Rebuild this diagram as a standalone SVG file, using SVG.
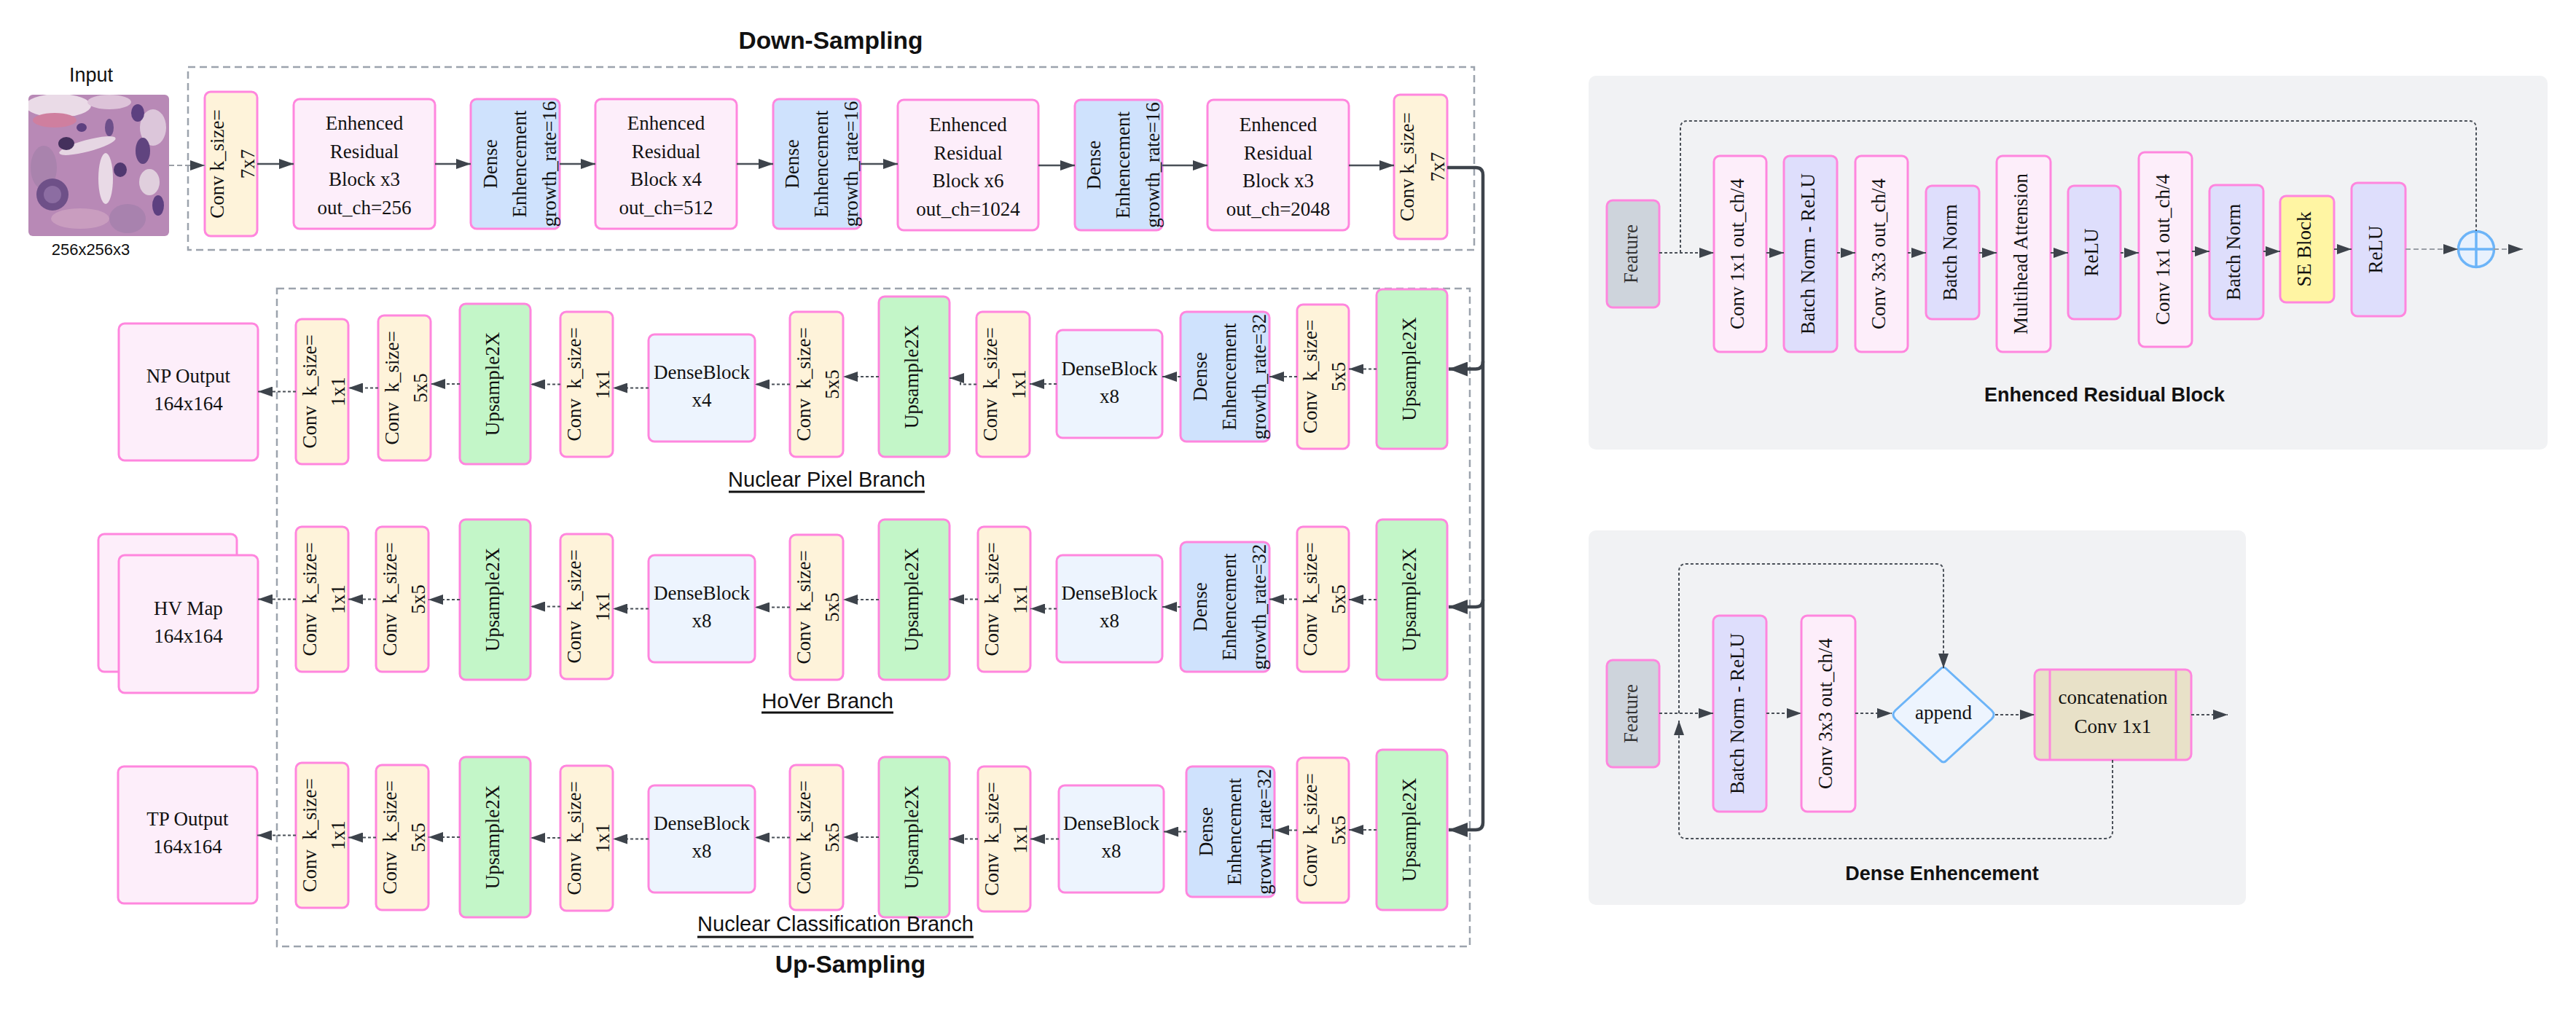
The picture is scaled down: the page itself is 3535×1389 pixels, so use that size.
<svg xmlns="http://www.w3.org/2000/svg" width="3535" height="1389" viewBox="0 0 3535 1389">
<style>
.box{stroke:#ff86de;stroke-width:3}
.conv{fill:#fef3da}.pk{fill:#fdeefa}.de{fill:#cfe2fd}.up{fill:#c3f6c8}.db{fill:#edf4fe}.lav{fill:#dedefc}.se{fill:#fff5a3}.ft{fill:#ced4dc}.cc{fill:#e8e1c8}
.t{font-family:"Liberation Serif","Times New Roman",serif;font-size:27px;fill:#111;text-anchor:middle}
.s{font-family:"Liberation Sans",Arial,sans-serif;fill:#111;text-anchor:middle}
.title{font-weight:bold;font-size:33.5px}
.branch{font-size:29px}
.ptitle{font-weight:bold;font-size:27px}
.dot{fill:none;stroke:#4a5058;stroke-width:2;stroke-dasharray:4 3}
.lt{fill:none;stroke:#9a9fa6;stroke-width:2;stroke-dasharray:7 4}
.solid{fill:none;stroke:#4a5058;stroke-width:2.5}
.main{fill:none;stroke:#3d434b;stroke-width:4.5}
.grp{fill:none;stroke:#9ca3ad;stroke-width:2.5;stroke-dasharray:10 6}
.panel{fill:#f1f2f4}
.ul{stroke:#111;stroke-width:3}
</style>
<defs>
<marker id="ah" viewBox="0 0 20 14" refX="20" refY="7" markerWidth="20" markerHeight="14" markerUnits="userSpaceOnUse" orient="auto"><path d="M0,0 L20,7 L0,14 z" fill="#3d434b"/></marker>
<marker id="ahb" viewBox="0 0 26 20" refX="26" refY="10" markerWidth="26" markerHeight="20" markerUnits="userSpaceOnUse" orient="auto"><path d="M0,0 L26,10 L0,20 z" fill="#3d434b"/></marker>
<clipPath id="imgclip"><rect x="39" y="130" width="193" height="194" rx="6"/></clipPath>
</defs>
<rect width="3535" height="1389" fill="#ffffff"/>

<!-- titles -->
<text class="s title" x="1140" y="67">Down-Sampling</text>
<text class="s title" x="1167" y="1335">Up-Sampling</text>
<rect class="grp" x="258" y="92" width="1765" height="251"/>
<rect class="grp" x="380" y="396" width="1637" height="903"/>

<!-- input -->
<g id="input">
<text class="s" x="125" y="112" style="font-size:27px">Input</text>
<g clip-path="url(#imgclip)">
<rect x="39" y="130" width="193" height="194" fill="#b889b6"/>
<ellipse cx="80" cy="145" rx="45" ry="16" fill="#eadbe7"/>
<ellipse cx="150" cy="140" rx="30" ry="10" fill="#ddc3d9"/>
<ellipse cx="75" cy="165" rx="30" ry="10" fill="#cf7f9f"/>
<ellipse cx="120" cy="200" rx="40" ry="8" fill="#e6d6e3" transform="rotate(-15 120 200)"/>
<ellipse cx="145" cy="245" rx="10" ry="35" fill="#e9dae6"/>
<ellipse cx="210" cy="175" rx="18" ry="25" fill="#dcc6da"/>
<ellipse cx="205" cy="250" rx="14" ry="18" fill="#e0cfdd"/>
<ellipse cx="60" cy="230" rx="18" ry="30" fill="#a983ad"/>
<ellipse cx="110" cy="300" rx="40" ry="14" fill="#c99dbf"/>
<ellipse cx="175" cy="300" rx="25" ry="20" fill="#a882ae"/>
<ellipse cx="189" cy="155" rx="9" ry="12" fill="#5d4080"/>
<ellipse cx="91" cy="197" rx="11" ry="9" fill="#44305c"/>
<ellipse cx="196" cy="207" rx="10" ry="18" fill="#60447f"/>
<ellipse cx="165" cy="233" rx="9" ry="10" fill="#503870"/>
<ellipse cx="72" cy="267" rx="22" ry="22" fill="#6e5088"/>
<ellipse cx="72" cy="267" rx="12" ry="12" fill="#8c6da2"/>
<ellipse cx="217" cy="282" rx="8" ry="14" fill="#5d4080"/>
<ellipse cx="112" cy="175" rx="7" ry="6" fill="#5d4080"/>
<ellipse cx="150" cy="175" rx="6" ry="12" fill="#6d4f8a"/>
</g>
<text class="s" x="124.5" y="350" style="font-size:22px">256x256x3</text>
</g>

<!-- down-sampling nodes -->
<g id="ds-conv1"><rect class="box conv" x="281" y="126" width="72" height="198" rx="8"/><text class="t" transform="translate(317 225) rotate(-90)"><tspan x="0" y="-10">Conv k_size=</tspan><tspan x="0" y="32">7x7</tspan></text></g>
<g id="ds-erb1"><rect class="box pk" x="403" y="136" width="194" height="178" rx="8"/><text class="t"><tspan x="500" y="178">Enhenced</tspan><tspan x="500" y="216.5">Residual</tspan><tspan x="500" y="255">Block x3</tspan><tspan x="500" y="293.5">out_ch=256</tspan></text></g>
<g id="ds-de1"><rect class="box de" x="646" y="136" width="122" height="178" rx="8"/><text class="t" transform="translate(707 225) rotate(-90)"><tspan x="0" y="-25">Dense</tspan><tspan x="0" y="14.5">Enhencement</tspan><tspan x="0" y="55.5">growth_rate=16</tspan></text></g>
<g id="ds-erb2"><rect class="box pk" x="817" y="136" width="194" height="178" rx="8"/><text class="t"><tspan x="914" y="178">Enhenced</tspan><tspan x="914" y="216.5">Residual</tspan><tspan x="914" y="255">Block x4</tspan><tspan x="914" y="293.5">out_ch=512</tspan></text></g>
<g id="ds-de2"><rect class="box de" x="1061" y="136" width="120" height="178" rx="8"/><text class="t" transform="translate(1121 225) rotate(-90)"><tspan x="0" y="-25">Dense</tspan><tspan x="0" y="14.5">Enhencement</tspan><tspan x="0" y="55.5">growth_rate=16</tspan></text></g>
<g id="ds-erb3"><rect class="box pk" x="1232" y="137" width="193" height="179" rx="8"/><text class="t"><tspan x="1328.5" y="180">Enhenced</tspan><tspan x="1328.5" y="218.5">Residual</tspan><tspan x="1328.5" y="257">Block x6</tspan><tspan x="1328.5" y="295.5">out_ch=1024</tspan></text></g>
<g id="ds-de3"><rect class="box de" x="1475" y="137" width="120" height="179" rx="8"/><text class="t" transform="translate(1535 226.5) rotate(-90)"><tspan x="0" y="-25">Dense</tspan><tspan x="0" y="14.5">Enhencement</tspan><tspan x="0" y="55.5">growth_rate=16</tspan></text></g>
<g id="ds-erb4"><rect class="box pk" x="1657" y="137" width="194" height="179" rx="8"/><text class="t"><tspan x="1754" y="180">Enhenced</tspan><tspan x="1754" y="218.5">Residual</tspan><tspan x="1754" y="257">Block x3</tspan><tspan x="1754" y="295.5">out_ch=2048</tspan></text></g>
<g id="ds-conv2"><rect class="box conv" x="1913" y="130" width="73" height="198" rx="8"/><text class="t" transform="translate(1949.5 229) rotate(-90)"><tspan x="0" y="-10">Conv k_size=</tspan><tspan x="0" y="32">7x7</tspan></text></g>

<!-- NP row -->
<g id="np-out"><rect class="box pk" x="163" y="444" width="191" height="188" rx="8"/><text class="t"><tspan x="258.5" y="525">NP Output</tspan><tspan x="258.5" y="563">164x164</tspan></text></g>
<g id="np-c1"><rect class="box conv" x="406" y="438" width="72" height="199" rx="8"/><text class="t" xml:space="preserve" transform="translate(442 537.5) rotate(-90)"><tspan x="0" y="-8.5">Conv  k_size=</tspan><tspan x="0" y="30.5">1x1</tspan></text></g>
<g id="np-c2"><rect class="box conv" x="519" y="433" width="72" height="199" rx="8"/><text class="t" xml:space="preserve" transform="translate(555 532.5) rotate(-90)"><tspan x="0" y="-8.5">Conv  k_size=</tspan><tspan x="0" y="30.5">5x5</tspan></text></g>
<g id="np-u1"><rect class="box up" x="631" y="417" width="97" height="220" rx="8"/><text class="t" transform="translate(679.5 527) rotate(-90)" x="0" y="5">Upsample2X</text></g>
<g id="np-c3"><rect class="box conv" x="769" y="428" width="72" height="199" rx="8"/><text class="t" xml:space="preserve" transform="translate(805 527.5) rotate(-90)"><tspan x="0" y="-8.5">Conv  k_size=</tspan><tspan x="0" y="30.5">1x1</tspan></text></g>
<g id="np-d1"><rect class="box db" x="890" y="459" width="146" height="147" rx="8"/><text class="t"><tspan x="963" y="520">DenseBlock</tspan><tspan x="963" y="558">x4</tspan></text></g>
<g id="np-c4"><rect class="box conv" x="1084" y="428" width="73" height="199" rx="8"/><text class="t" xml:space="preserve" transform="translate(1120.5 527.5) rotate(-90)"><tspan x="0" y="-8.5">Conv  k_size=</tspan><tspan x="0" y="30.5">5x5</tspan></text></g>
<g id="np-u2"><rect class="box up" x="1206" y="407" width="97" height="220" rx="8"/><text class="t" transform="translate(1254.5 517) rotate(-90)" x="0" y="5">Upsample2X</text></g>
<g id="np-c5"><rect class="box conv" x="1340" y="428" width="73" height="199" rx="8"/><text class="t" xml:space="preserve" transform="translate(1376.5 527.5) rotate(-90)"><tspan x="0" y="-8.5">Conv  k_size=</tspan><tspan x="0" y="30.5">1x1</tspan></text></g>
<g id="np-d2"><rect class="box db" x="1450" y="453" width="145" height="148" rx="8"/><text class="t"><tspan x="1522.5" y="514.5">DenseBlock</tspan><tspan x="1522.5" y="552.5">x8</tspan></text></g>
<g id="np-de"><rect class="box de" x="1620" y="428" width="122" height="178" rx="8"/><text class="t" transform="translate(1681 517) rotate(-90)"><tspan x="0" y="-25">Dense</tspan><tspan x="0" y="14.5">Enhencement</tspan><tspan x="0" y="55.5">growth_rate=32</tspan></text></g>
<g id="np-c6"><rect class="box conv" x="1780" y="418" width="71" height="198" rx="8"/><text class="t" xml:space="preserve" transform="translate(1815.5 517) rotate(-90)"><tspan x="0" y="-8.5">Conv  k_size=</tspan><tspan x="0" y="30.5">5x5</tspan></text></g>
<g id="np-u3"><rect class="box up" x="1889" y="397" width="97" height="219" rx="8"/><text class="t" transform="translate(1937.5 506.5) rotate(-90)" x="0" y="5">Upsample2X</text></g>

<!-- HV row -->
<g id="hv-out"><rect class="box pk" x="135" y="733" width="190" height="189" rx="8"/><rect class="box pk" x="163" y="762" width="191" height="189" rx="8"/><text class="t"><tspan x="258.5" y="843.5">HV Map</tspan><tspan x="258.5" y="881.5">164x164</tspan></text></g>
<g id="hv-c1"><rect class="box conv" x="406" y="723" width="72" height="199" rx="8"/><text class="t" xml:space="preserve" transform="translate(442 822.5) rotate(-90)"><tspan x="0" y="-8.5">Conv  k_size=</tspan><tspan x="0" y="30.5">1x1</tspan></text></g>
<g id="hv-c2"><rect class="box conv" x="516" y="723" width="72" height="199" rx="8"/><text class="t" xml:space="preserve" transform="translate(552 822.5) rotate(-90)"><tspan x="0" y="-8.5">Conv  k_size=</tspan><tspan x="0" y="30.5">5x5</tspan></text></g>
<g id="hv-u1"><rect class="box up" x="631" y="713" width="97" height="220" rx="8"/><text class="t" transform="translate(679.5 823) rotate(-90)" x="0" y="5">Upsample2X</text></g>
<g id="hv-c3"><rect class="box conv" x="769" y="733" width="72" height="199" rx="8"/><text class="t" xml:space="preserve" transform="translate(805 832.5) rotate(-90)"><tspan x="0" y="-8.5">Conv  k_size=</tspan><tspan x="0" y="30.5">1x1</tspan></text></g>
<g id="hv-d1"><rect class="box db" x="890" y="762" width="146" height="147" rx="8"/><text class="t"><tspan x="963" y="823">DenseBlock</tspan><tspan x="963" y="861">x8</tspan></text></g>
<g id="hv-c4"><rect class="box conv" x="1084" y="734" width="73" height="199" rx="8"/><text class="t" xml:space="preserve" transform="translate(1120.5 833.5) rotate(-90)"><tspan x="0" y="-8.5">Conv  k_size=</tspan><tspan x="0" y="30.5">5x5</tspan></text></g>
<g id="hv-u2"><rect class="box up" x="1206" y="713" width="97" height="220" rx="8"/><text class="t" transform="translate(1254.5 823) rotate(-90)" x="0" y="5">Upsample2X</text></g>
<g id="hv-c5"><rect class="box conv" x="1342" y="723" width="72" height="199" rx="8"/><text class="t" xml:space="preserve" transform="translate(1378 822.5) rotate(-90)"><tspan x="0" y="-8.5">Conv  k_size=</tspan><tspan x="0" y="30.5">1x1</tspan></text></g>
<g id="hv-d2"><rect class="box db" x="1450" y="762" width="145" height="147" rx="8"/><text class="t"><tspan x="1522.5" y="823">DenseBlock</tspan><tspan x="1522.5" y="861">x8</tspan></text></g>
<g id="hv-de"><rect class="box de" x="1620" y="744" width="122" height="178" rx="8"/><text class="t" transform="translate(1681 833) rotate(-90)"><tspan x="0" y="-25">Dense</tspan><tspan x="0" y="14.5">Enhencement</tspan><tspan x="0" y="55.5">growth_rate=32</tspan></text></g>
<g id="hv-c6"><rect class="box conv" x="1780" y="723" width="71" height="199" rx="8"/><text class="t" xml:space="preserve" transform="translate(1815.5 822.5) rotate(-90)"><tspan x="0" y="-8.5">Conv  k_size=</tspan><tspan x="0" y="30.5">5x5</tspan></text></g>
<g id="hv-u3"><rect class="box up" x="1889" y="713" width="97" height="220" rx="8"/><text class="t" transform="translate(1937.5 823) rotate(-90)" x="0" y="5">Upsample2X</text></g>

<!-- TP row -->
<g id="tp-out"><rect class="box pk" x="162" y="1052" width="191" height="188" rx="8"/><text class="t"><tspan x="257.5" y="1133">TP Output</tspan><tspan x="257.5" y="1171">164x164</tspan></text></g>
<g id="tp-c1"><rect class="box conv" x="406" y="1047" width="72" height="199" rx="8"/><text class="t" xml:space="preserve" transform="translate(442 1146.5) rotate(-90)"><tspan x="0" y="-8.5">Conv  k_size=</tspan><tspan x="0" y="30.5">1x1</tspan></text></g>
<g id="tp-c2"><rect class="box conv" x="516" y="1050" width="72" height="199" rx="8"/><text class="t" xml:space="preserve" transform="translate(552 1149.5) rotate(-90)"><tspan x="0" y="-8.5">Conv  k_size=</tspan><tspan x="0" y="30.5">5x5</tspan></text></g>
<g id="tp-u1"><rect class="box up" x="631" y="1039" width="97" height="220" rx="8"/><text class="t" transform="translate(679.5 1149) rotate(-90)" x="0" y="5">Upsample2X</text></g>
<g id="tp-c3"><rect class="box conv" x="769" y="1051" width="72" height="199" rx="8"/><text class="t" xml:space="preserve" transform="translate(805 1150.5) rotate(-90)"><tspan x="0" y="-8.5">Conv  k_size=</tspan><tspan x="0" y="30.5">1x1</tspan></text></g>
<g id="tp-d1"><rect class="box db" x="890" y="1078" width="146" height="147" rx="8"/><text class="t"><tspan x="963" y="1139">DenseBlock</tspan><tspan x="963" y="1177">x8</tspan></text></g>
<g id="tp-c4"><rect class="box conv" x="1084" y="1050" width="73" height="199" rx="8"/><text class="t" xml:space="preserve" transform="translate(1120.5 1149.5) rotate(-90)"><tspan x="0" y="-8.5">Conv  k_size=</tspan><tspan x="0" y="30.5">5x5</tspan></text></g>
<g id="tp-u2"><rect class="box up" x="1206" y="1039" width="97" height="220" rx="8"/><text class="t" transform="translate(1254.5 1149) rotate(-90)" x="0" y="5">Upsample2X</text></g>
<g id="tp-c5"><rect class="box conv" x="1342" y="1052" width="72" height="199" rx="8"/><text class="t" xml:space="preserve" transform="translate(1378 1151.5) rotate(-90)"><tspan x="0" y="-8.5">Conv  k_size=</tspan><tspan x="0" y="30.5">1x1</tspan></text></g>
<g id="tp-d2"><rect class="box db" x="1453" y="1078" width="144" height="147" rx="8"/><text class="t"><tspan x="1525" y="1139">DenseBlock</tspan><tspan x="1525" y="1177">x8</tspan></text></g>
<g id="tp-de"><rect class="box de" x="1628" y="1052" width="121" height="179" rx="8"/><text class="t" transform="translate(1688.5 1141.5) rotate(-90)"><tspan x="0" y="-25">Dense</tspan><tspan x="0" y="14.5">Enhencement</tspan><tspan x="0" y="55.5">growth_rate=32</tspan></text></g>
<g id="tp-c6"><rect class="box conv" x="1780" y="1040" width="71" height="199" rx="8"/><text class="t" xml:space="preserve" transform="translate(1815.5 1139.5) rotate(-90)"><tspan x="0" y="-8.5">Conv  k_size=</tspan><tspan x="0" y="30.5">5x5</tspan></text></g>
<g id="tp-u3"><rect class="box up" x="1889" y="1029" width="97" height="220" rx="8"/><text class="t" transform="translate(1937.5 1139) rotate(-90)" x="0" y="5">Upsample2X</text></g>

<!-- branch labels -->
<g id="labels">
<text class="s branch" x="1134.5" y="668">Nuclear Pixel Branch</text><line class="ul" x1="1000" y1="675" x2="1269" y2="675"/>
<text class="s branch" x="1135.5" y="972">HoVer Branch</text><line class="ul" x1="1045" y1="978" x2="1226" y2="978"/>
<text class="s branch" x="1146.5" y="1278">Nuclear Classification Branch</text><line class="ul" x1="957" y1="1286" x2="1336" y2="1286"/>
</g>

<!-- ERB panel -->
<g id="erb-panel">
<rect class="panel" x="2180" y="104" width="1316" height="513" rx="10"/>
<text class="s ptitle" x="2888" y="551">Enhenced Residual Block</text>
</g>
<g id="erb-feature"><rect class="box ft" x="2205" y="275" width="72" height="147" rx="8"/><text class="t" transform="translate(2241 348.5) rotate(-90)" x="0" y="6" style="fill:#333">Feature</text></g>
<g id="erb-conv1"><rect class="box pk" x="2352" y="214" width="72" height="269" rx="8"/><text class="t" transform="translate(2388 348.5) rotate(-90)" x="0" y="5">Conv 1x1 out_ch/4</text></g>
<g id="erb-bnr"><rect class="box lav" x="2448" y="214" width="73" height="269" rx="8"/><text class="t" transform="translate(2484.5 348.5) rotate(-90)" x="0" y="5">Batch Norm - ReLU</text></g>
<g id="erb-conv3"><rect class="box pk" x="2546" y="214" width="72" height="269" rx="8"/><text class="t" transform="translate(2582 348.5) rotate(-90)" x="0" y="5">Conv 3x3 out_ch/4</text></g>
<g id="erb-bn1"><rect class="box lav" x="2643" y="255" width="73" height="183" rx="8"/><text class="t" transform="translate(2679.5 346.5) rotate(-90)" x="0" y="5">Batch Norm</text></g>
<g id="erb-mha"><rect class="box pk" x="2740" y="214" width="74" height="269" rx="8"/><text class="t" transform="translate(2777 348.5) rotate(-90)" x="0" y="5">Multihead Attension</text></g>
<g id="erb-relu1"><rect class="box lav" x="2838" y="255" width="72" height="183" rx="8"/><text class="t" transform="translate(2874 346.5) rotate(-90)" x="0" y="5">ReLU</text></g>
<g id="erb-conv1b"><rect class="box pk" x="2935" y="209" width="73" height="267" rx="8"/><text class="t" transform="translate(2971.5 342.5) rotate(-90)" x="0" y="5">Conv 1x1 out_ch/4</text></g>
<g id="erb-bn2"><rect class="box lav" x="3032" y="254" width="74" height="184" rx="8"/><text class="t" transform="translate(3069 346) rotate(-90)" x="0" y="5">Batch Norm</text></g>
<g id="erb-se"><rect class="box se" x="3129" y="269" width="74" height="146" rx="8"/><text class="t" transform="translate(3166 342) rotate(-90)" x="0" y="5">SE Block</text></g>
<g id="erb-relu2"><rect class="box lav" x="3227" y="251" width="74" height="183" rx="8"/><text class="t" transform="translate(3264 342.5) rotate(-90)" x="0" y="5">ReLU</text></g>
<g id="erb-add"><circle cx="3398" cy="342" r="24.5" fill="#e8f1fd" stroke="#6cb4f8" stroke-width="3.5"/><line x1="3373.5" y1="342" x2="3422.5" y2="342" stroke="#6cb4f8" stroke-width="3.5"/><line x1="3398" y1="317.5" x2="3398" y2="366.5" stroke="#6cb4f8" stroke-width="3.5"/></g>

<!-- Dense Enhencement panel -->
<g id="de-panel">
<rect class="panel" x="2180" y="728" width="902" height="514" rx="10"/>
<text class="s ptitle" x="2665" y="1208">Dense Enhencement</text>
</g>
<g id="de-feature"><rect class="box ft" x="2205" y="906" width="72" height="147" rx="8"/><text class="t" transform="translate(2241 979.5) rotate(-90)" x="0" y="6" style="fill:#333">Feature</text></g>
<g id="de-bnr"><rect class="box lav" x="2351" y="845" width="73" height="269" rx="8"/><text class="t" transform="translate(2387.5 979.5) rotate(-90)" x="0" y="5">Batch Norm - ReLU</text></g>
<g id="de-conv3"><rect class="box pk" x="2472" y="845" width="74" height="269" rx="8"/><text class="t" transform="translate(2509 979.5) rotate(-90)" x="0" y="5">Conv 3x3 out_ch/4</text></g>
<g id="de-append"><path d="M2662,919 Q2667,913 2672,919 L2733,975 Q2739,981 2733,987 L2672,1043 Q2667,1049 2662,1043 L2601,987 Q2595,981 2601,975 Z" fill="#edf4fe" stroke="#6cb4f8" stroke-width="3"/><text class="t" x="2667" y="987">append</text></g>
<g id="de-concat"><rect class="box cc" x="2792" y="919" width="215" height="124" rx="8"/><line x1="2813" y1="919" x2="2813" y2="1043" stroke="#ff86de" stroke-width="3"/><line x1="2986" y1="919" x2="2986" y2="1043" stroke="#ff86de" stroke-width="3"/><text class="t"><tspan x="2899.5" y="966">concatenation</tspan><tspan x="2899.5" y="1006">Conv 1x1</tspan></text></g>

<!-- connectors -->
<g id="connectors">
<path class="lt" d="M232,227 H281" marker-end="url(#ah)"/>
<path class="solid" d="M353,225 H403" marker-end="url(#ah)"/>
<path class="solid" d="M597,225 H646" marker-end="url(#ah)"/>
<path class="solid" d="M768,225 H817" marker-end="url(#ah)"/>
<path class="solid" d="M1011,225 H1061" marker-end="url(#ah)"/>
<path class="solid" d="M1181,225 H1232" marker-end="url(#ah)"/>
<path class="solid" d="M1425,227 H1475" marker-end="url(#ah)"/>
<path class="solid" d="M1595,227 H1657" marker-end="url(#ah)"/>
<path class="solid" d="M1851,227 H1913" marker-end="url(#ah)"/>

<path class="main" d="M1986,230 H2025 Q2035,230 2035,240 V1129 Q2035,1139 2025,1139 H1988" marker-end="url(#ahb)"/>
<path class="main" d="M2035,496 Q2035,506.5 2025,506.5 H1988" marker-end="url(#ahb)"/>
<path class="main" d="M2035,823 Q2035,833 2025,833 H1988" marker-end="url(#ahb)"/>

<path class="dot" d="M1889,506.5 H1851" marker-end="url(#ah)"/>
<path class="dot" d="M1780,517 H1742" marker-end="url(#ah)"/>
<path class="dot" d="M1620,517 H1595" marker-end="url(#ah)"/>
<path class="dot" d="M1450,527 H1413" marker-end="url(#ah)"/>
<path class="dot" d="M1340,527.5 H1318 V519 H1303" marker-end="url(#ah)"/>
<path class="dot" d="M1206,517 H1157" marker-end="url(#ah)"/>
<path class="dot" d="M1084,527.5 H1036" marker-end="url(#ah)"/>
<path class="dot" d="M890,532.5 H841" marker-end="url(#ah)"/>
<path class="dot" d="M769,527.5 H728" marker-end="url(#ah)"/>
<path class="dot" d="M631,527 H591" marker-end="url(#ah)"/>
<path class="dot" d="M519,532.5 H478" marker-end="url(#ah)"/>
<path class="dot" d="M406,537.5 H354" marker-end="url(#ah)"/>

<path class="dot" d="M1889,823 H1851" marker-end="url(#ah)"/>
<path class="dot" d="M1780,822.5 H1742" marker-end="url(#ah)"/>
<path class="dot" d="M1620,833 H1595" marker-end="url(#ah)"/>
<path class="dot" d="M1450,835.5 H1414" marker-end="url(#ah)"/>
<path class="dot" d="M1342,822.5 H1303" marker-end="url(#ah)"/>
<path class="dot" d="M1206,823 H1157" marker-end="url(#ah)"/>
<path class="dot" d="M1084,833.5 H1036" marker-end="url(#ah)"/>
<path class="dot" d="M890,835.5 H841" marker-end="url(#ah)"/>
<path class="dot" d="M769,832.5 H728" marker-end="url(#ah)"/>
<path class="dot" d="M631,823 H588" marker-end="url(#ah)"/>
<path class="dot" d="M516,822.5 H478" marker-end="url(#ah)"/>
<path class="dot" d="M406,822.5 H354" marker-end="url(#ah)"/>

<path class="dot" d="M1889,1139 H1851" marker-end="url(#ah)"/>
<path class="dot" d="M1780,1139.5 H1749" marker-end="url(#ah)"/>
<path class="dot" d="M1628,1141.5 H1597" marker-end="url(#ah)"/>
<path class="dot" d="M1453,1151.5 H1414" marker-end="url(#ah)"/>
<path class="dot" d="M1342,1151.5 H1303" marker-end="url(#ah)"/>
<path class="dot" d="M1206,1149 H1157" marker-end="url(#ah)"/>
<path class="dot" d="M1084,1149.5 H1036" marker-end="url(#ah)"/>
<path class="dot" d="M890,1151.5 H841" marker-end="url(#ah)"/>
<path class="dot" d="M769,1150 H728" marker-end="url(#ah)"/>
<path class="dot" d="M631,1149 H588" marker-end="url(#ah)"/>
<path class="dot" d="M516,1149.5 H478" marker-end="url(#ah)"/>
<path class="dot" d="M406,1146.5 H353" marker-end="url(#ah)"/>

<!-- ERB panel connectors -->
<path class="dot" d="M2277,347 H2352" marker-end="url(#ah)"/>
<path class="dot" d="M2306,347 V176 Q2306,166 2316,166 H3388 Q3398,166 3398,176 V317"/>
<path class="dot" d="M2424,347 H2448" marker-end="url(#ah)"/>
<path class="dot" d="M2521,347 H2546" marker-end="url(#ah)"/>
<path class="dot" d="M2618,347 H2643" marker-end="url(#ah)"/>
<path class="dot" d="M2716,347 H2740" marker-end="url(#ah)"/>
<path class="dot" d="M2814,347 H2838" marker-end="url(#ah)"/>
<path class="dot" d="M2910,347 H2935" marker-end="url(#ah)"/>
<path class="dot" d="M3008,345 H3032" marker-end="url(#ah)"/>
<path class="dot" d="M3106,345 H3129" marker-end="url(#ah)"/>
<path class="dot" d="M3203,342 H3227" marker-end="url(#ah)"/>
<path class="lt" d="M3301,342 H3373" marker-end="url(#ah)"/>
<path class="lt" d="M3422,342 H3462" marker-end="url(#ah)"/>

<!-- DE panel connectors -->
<path class="dot" d="M2277,979 H2351" marker-end="url(#ah)"/>
<path class="dot" d="M2304,979 V784 Q2304,774 2314,774 H2657 Q2667,774 2667,784 V917" marker-end="url(#ah)"/>
<path class="dot" d="M2899,1043 V1141 Q2899,1151 2889,1151 H2314 Q2304,1151 2304,1141 V989" marker-end="url(#ah)"/>
<path class="dot" d="M2424,979 H2472" marker-end="url(#ah)"/>
<path class="dot" d="M2546,979 H2596" marker-end="url(#ah)"/>
<path class="dot" d="M2738,981 H2792" marker-end="url(#ah)"/>
<path class="dot" d="M3007,981 H3057" marker-end="url(#ah)"/>
</g>
</svg>
